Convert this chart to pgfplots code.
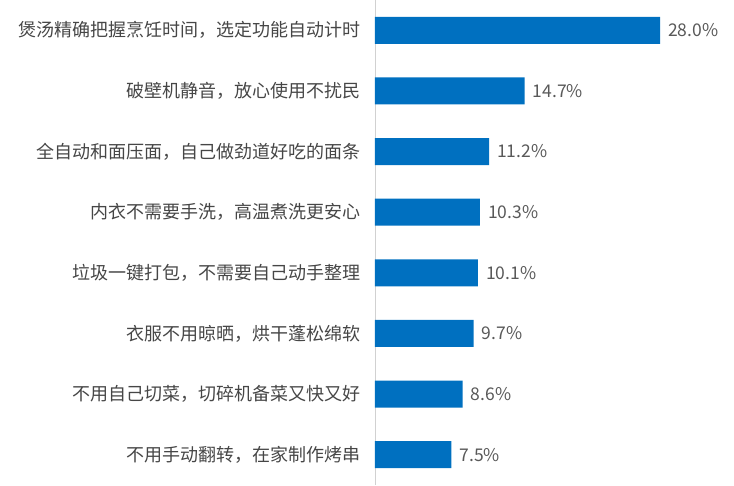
\documentclass[border=0pt]{standalone}
\usepackage{pgfplots}
\pgfplotsset{compat=1.18}
\usepackage{fontspec}
\setmainfont{Noto Sans CJK SC}
\definecolor{barblue}{RGB}{0,112,192}
\definecolor{txt}{RGB}{70,70,70}
\definecolor{numtxt}{RGB}{89,89,89}
\begin{document}
\begin{tikzpicture}
\useasboundingbox (0,0) rectangle (734pt,485pt);
\begin{axis}[
  at={(375pt,0pt)}, anchor=south west,
  scale only axis, width=359pt, height=485pt,
  xbar, xmin=0, xmax=35.27, ymin=0.5, ymax=8.5, y dir=reverse,
  bar width=27pt,
  hide x axis,
  axis y line*=left,
  y axis line style={draw=black!18, line width=0.8pt},
  ytick={1,...,8},
  yticklabels={{煲汤精确把握烹饪时间，选定功能自动计时},{破壁机静音，放心使用不扰民},{全自动和面压面，自己做劲道好吃的面条},{内衣不需要手洗，高温煮洗更安心},{垃圾一键打包，不需要自己动手整理},{衣服不用晾晒，烘干蓬松绵软},{不用自己切菜，切碎机备菜又快又好},{不用手动翻转，在家制作烤串}},
  major tick length=0pt,
  yticklabel style={anchor=east, inner sep=0pt, xshift=-14pt, font=\fontsize{18}{18}\selectfont, text=txt},
  /pgf/number format/assume math mode=true,
  nodes near coords={\pgfmathprintnumber[fixed,fixed zerofill,precision=1,assume math mode=true]{\pgfplotspointmeta}\%},
  nodes near coords style={anchor=west, inner sep=0pt, xshift=8pt, font=\fontsize{17.5}{18}\selectfont, text=numtxt},
  point meta=explicit symbolic,
  clip=false,
]
\addplot[draw=none, fill=barblue] table[meta=v] {
x y v
28.0 1 28.0
14.7 2 14.7
11.2 3 11.2
10.3 4 10.3
10.1 5 10.1
9.7 6 9.7
8.6 7 8.6
7.5 8 7.5
};
\end{axis}
\end{tikzpicture}
\end{document}
